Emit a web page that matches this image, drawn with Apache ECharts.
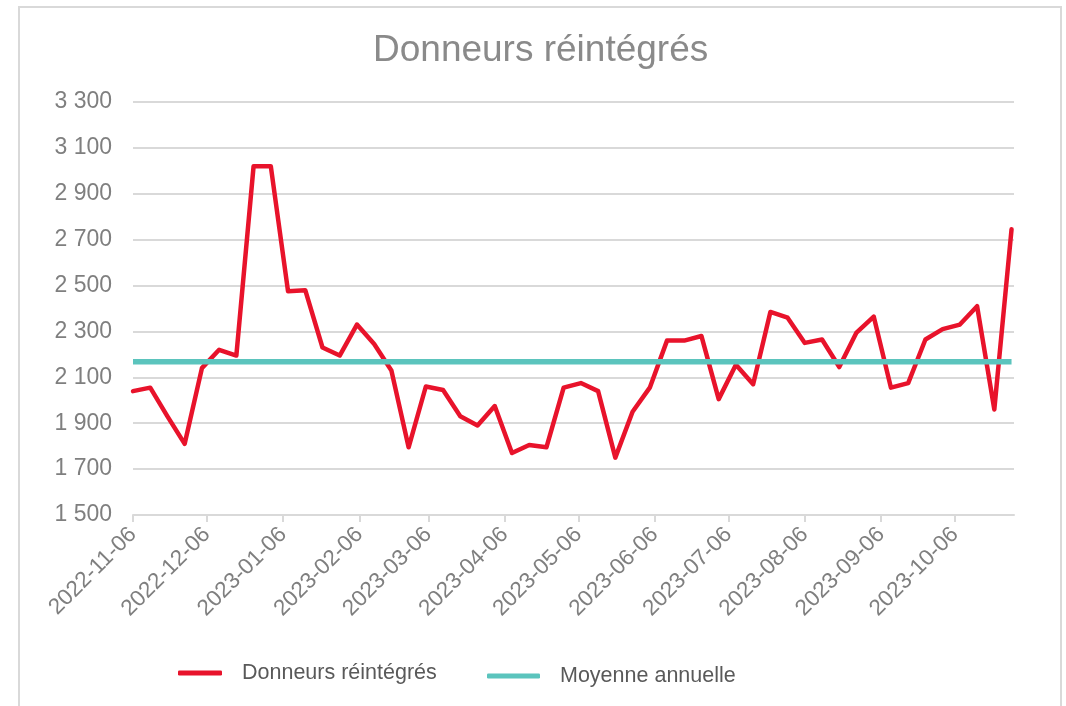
<!DOCTYPE html>
<html lang="fr">
<head>
    <meta charset="UTF-8">
    <title>Donneurs réintégrés</title>
    <script src="https://cdn.jsdelivr.net/npm/echarts@6/dist/echarts.min.js"></script>
    <style>
        html, body { margin: 0; padding: 0; background: #fff; }
    </style>
</head>
<body>
    <div id="graph" style="width: 1066px; height: 706px;"></div>

    <script>
        // semaines (dimanche)
        var dates = [
            '2022-11-06', '2022-11-13', '2022-11-20', '2022-11-27',
            '2022-12-04', '2022-12-11', '2022-12-18', '2022-12-25',
            '2023-01-01', '2023-01-08', '2023-01-15', '2023-01-22', '2023-01-29',
            '2023-02-05', '2023-02-12', '2023-02-19', '2023-02-26',
            '2023-03-05', '2023-03-12', '2023-03-19', '2023-03-26',
            '2023-04-02', '2023-04-09', '2023-04-16', '2023-04-23', '2023-04-30',
            '2023-05-07', '2023-05-14', '2023-05-21', '2023-05-28',
            '2023-06-04', '2023-06-11', '2023-06-18', '2023-06-25',
            '2023-07-02', '2023-07-09', '2023-07-16', '2023-07-23', '2023-07-30',
            '2023-08-06', '2023-08-13', '2023-08-20', '2023-08-27',
            '2023-09-03', '2023-09-10', '2023-09-17', '2023-09-24',
            '2023-10-01', '2023-10-08', '2023-10-15', '2023-10-22', '2023-10-29'
        ];
        var donneurs = [
            2040, 2055, 1930, 1810,
            2140, 2220, 2195, 3020,
            3020, 2475, 2480, 2230, 2195,
            2330, 2245, 2130, 1795,
            2060, 2045, 1930, 1890,
            1975, 1770, 1805, 1795, 2055,
            2075, 2040, 1750, 1950,
            2055, 2260, 2260, 2280,
            2005, 2155, 2070, 2385, 2360,
            2250, 2265, 2145, 2295,
            2365, 2055, 2075, 2265,
            2310, 2330, 2410, 1960, 2745
        ];
        var moyenne = 2168;
        var xTicks = [
            '2022-11-06', '2022-12-06', '2023-01-06', '2023-02-06', '2023-03-06', '2023-04-06',
            '2023-05-06', '2023-06-06', '2023-07-06', '2023-08-06', '2023-09-06', '2023-10-06'
        ];
        var yTicks = [1500, 1700, 1900, 2100, 2300, 2500, 2700, 2900, 3100, 3300];
        var xMin = '2022-11-06';
        var xMax = '2023-10-30';

        // dates -> timestamps (UTC), axe en valeur
        function ts(s) {
            return Date.parse(s + 'T00:00:00Z');
        }
        function fmtDate(v) {
            return new Date(v).toISOString().slice(0, 10);
        }

        var myChart = echarts.init(document.getElementById('graph'));

        var redData = [];
        for (var i = 0; i < dates.length; i++) {
            redData.push([ts(dates[i]), donneurs[i]]);
        }
        var meanData = [[ts(dates[0]), moyenne], [ts(dates[dates.length - 1]), moyenne]];
        var xTickTs = xTicks.map(ts);

        var legendText = {
            fontSize: 21.5,
            color: '#595959',
            fontFamily: 'Liberation Sans, Arial, sans-serif',
            padding: [0, 0, 0, 15]
        };

        var option = {
            animation: false,
            textStyle: { fontFamily: 'Liberation Sans, Arial, sans-serif' },
            graphic: [{
                type: 'rect',
                shape: { x: 19, y: 7, width: 1042, height: 720 },
                style: { fill: 'none', stroke: '#d9d9d9', lineWidth: 2 },
                silent: true
            }],
            title: {
                text: 'Donneurs réintégrés',
                left: 368,
                top: 27,
                textStyle: {
                    fontSize: 37,
                    fontWeight: 'normal',
                    color: '#8a8a8a',
                    fontFamily: 'Liberation Sans, Arial, sans-serif'
                }
            },
            legend: [{
                data: [{ name: 'Donneurs réintégrés', icon: 'roundRect' }],
                left: 178,
                top: 662,
                padding: 0,
                itemWidth: 44,
                itemHeight: 5,
                textStyle: legendText
            }, {
                data: [{ name: 'Moyenne annuelle', icon: 'roundRect' }],
                left: 487,
                top: 665,
                padding: 0,
                itemWidth: 53,
                itemHeight: 5,
                textStyle: legendText
            }],
            grid: {
                left: 133,
                right: 52,
                top: 102,
                bottom: 191,
                containLabel: false
            },
            xAxis: {
                type: 'value',
                min: ts(xMin),
                max: ts(xMax),
                axisLine: { lineStyle: { color: '#d9d9d9', width: 2 } },
                axisTick: {
                    customValues: xTickTs,
                    length: 7,
                    lineStyle: { color: '#d9d9d9', width: 2 }
                },
                axisLabel: {
                    customValues: xTickTs,
                    rotate: 45,
                    margin: 16,
                    fontSize: 22.5,
                    color: '#7f7f7f',
                    formatter: fmtDate
                },
                splitLine: { show: false }
            },
            yAxis: {
                type: 'value',
                min: 1500,
                max: 3300,
                axisLine: { show: false },
                axisTick: { show: false, customValues: yTicks },
                axisLabel: {
                    customValues: yTicks,
                    margin: 21,
                    fontSize: 23,
                    color: '#7f7f7f',
                    padding: [5, 0, 0, 0],
                    formatter: function (v) {
                        return String(v).replace(/\B(?=(\d{3})+(?!\d))/g, ' ');
                    }
                },
                splitLine: { lineStyle: { color: '#d9d9d9', width: 2 } }
            },
            series: [{
                name: 'Donneurs réintégrés',
                type: 'line',
                data: redData,
                showSymbol: false,
                symbol: 'none',
                color: '#e8132b',
                lineStyle: { color: '#e8132b', width: 4.5, join: 'round', cap: 'round' },
                z: 3
            }, {
                name: 'Moyenne annuelle',
                type: 'line',
                data: meanData,
                showSymbol: false,
                symbol: 'none',
                color: '#5bc4bd',
                lineStyle: { color: '#5bc4bd', width: 5.5 },
                z: 4
            }]
        };
        myChart.setOption(option);
    </script>
</body>
</html>
